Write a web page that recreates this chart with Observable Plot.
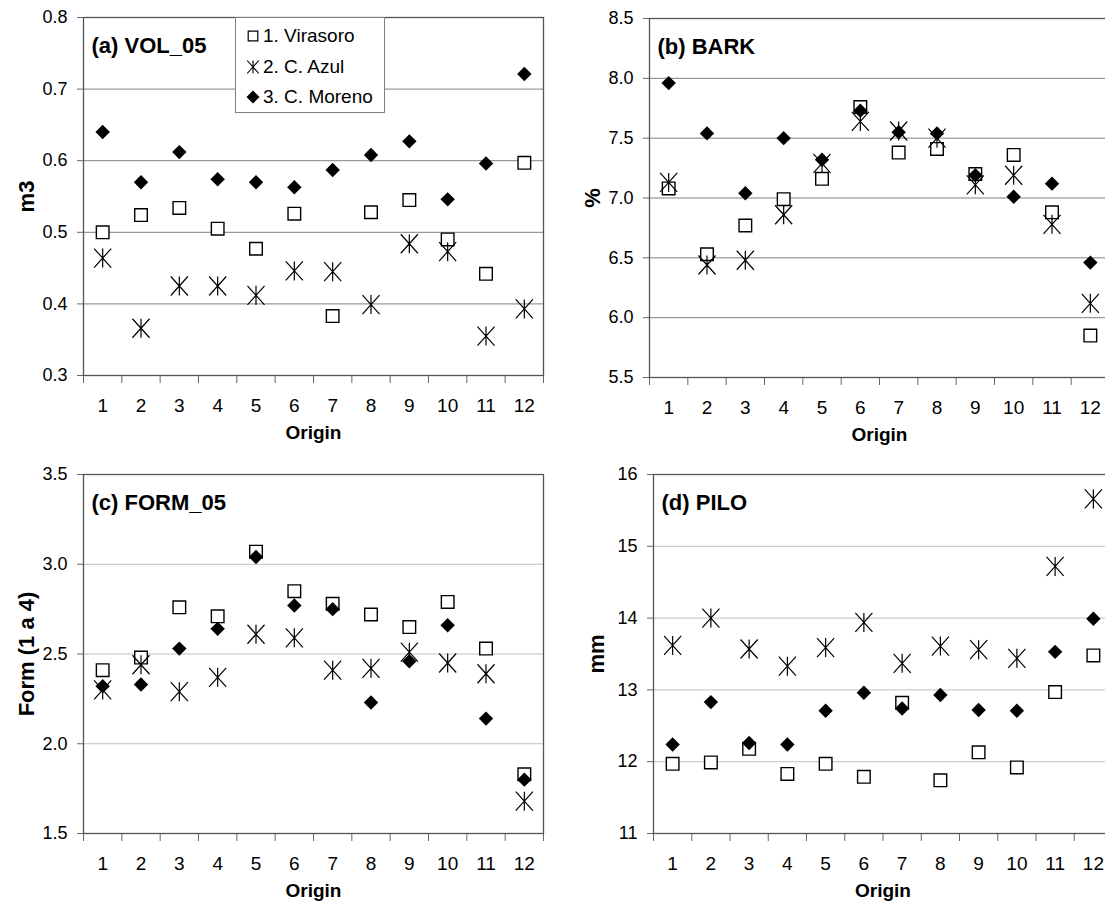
<!DOCTYPE html>
<html><head><meta charset="utf-8">
<script src="https://cdn.jsdelivr.net/npm/d3@7"></script>
<script src="https://cdn.jsdelivr.net/npm/@observablehq/plot@0.6"></script>
<style>
html,body{margin:0;padding:0;background:#fff;}
#fig{position:relative;width:1105px;height:905px;overflow:hidden;background:#fff;font-family:"Liberation Sans",Arial,sans-serif;}
.panel{position:absolute;}
.panel svg{max-width:none !important;}
#legend{position:absolute;left:235px;top:17px;width:150px;height:96px;border:1px solid #808080;background:#fff;box-sizing:border-box;}
#legend .row{position:absolute;left:0;height:24px;line-height:24px;font-size:19px;color:#000;white-space:nowrap;}
#legend svg{position:absolute;left:9px;top:4px;}
#legend span{position:absolute;left:27px;top:0;}
</style></head><body><div id="fig"></div>
<script>
// ---------- data ----------
const origins = [1,2,3,4,5,6,7,8,9,10,11,12];
const seriesNames = ["1. Virasoro", "2. C. Azul", "3. C. Moreno"];

const volVirasoro = [0.500,0.524,0.534,0.505,0.477,0.526,0.383,0.528,0.545,0.490,0.442,0.597];
const volAzul     = [0.464,0.366,0.425,0.425,0.412,0.446,0.445,0.399,0.484,0.473,0.355,0.393];
const volMoreno   = [0.640,0.570,0.612,0.574,0.570,0.563,0.587,0.608,0.627,0.546,0.596,0.721];

const barkVirasoro = [7.08,6.53,6.77,6.99,7.16,7.76,7.38,7.41,7.20,7.36,6.88,5.85];
const barkAzul     = [7.13,6.44,6.48,6.86,7.29,7.64,7.56,7.50,7.11,7.19,6.78,6.12];
const barkMoreno   = [7.96,7.54,7.04,7.50,7.32,7.73,7.55,7.54,7.19,7.01,7.12,6.46];

const formVirasoro = [2.41,2.48,2.76,2.71,3.07,2.85,2.78,2.72,2.65,2.79,2.53,1.83];
const formAzul     = [2.30,2.44,2.29,2.37,2.61,2.59,2.41,2.42,2.51,2.45,2.39,1.68];
const formMoreno   = [2.32,2.33,2.53,2.64,3.04,2.77,2.75,2.23,2.46,2.66,2.14,1.80];

const piloVirasoro = [11.97,11.99,12.18,11.83,11.97,11.79,12.82,11.74,12.13,11.92,12.97,13.48];
const piloAzul     = [13.62,14.00,13.57,13.33,13.59,13.94,13.37,13.61,13.56,13.44,14.72,15.66];
const piloMoreno   = [12.24,12.83,12.26,12.24,12.71,12.96,12.74,12.93,12.72,12.71,13.53,13.99];

const ticksVol  = [0.3,0.4,0.5,0.6,0.7,0.8];
const ticksBark = [5.5,6.0,6.5,7.0,7.5,8.0,8.5];
const ticksForm = [1.5,2.0,2.5,3.0,3.5];
const ticksPilo = [11,12,13,14,15,16];

const titles  = ["(a) VOL_05", "(b) BARK", "(c) FORM_05", "(d) PILO"];
const yLabels = ["m3", "%", "Form (1 a 4)", "mm"];
const xLabel  = "Origin";

// ---------- symbols ----------
const symSquare = {draw(c, size){const r=Math.sqrt(size/Math.PI); c.moveTo(-r,-r); c.lineTo(r,-r); c.lineTo(r,r); c.lineTo(-r,r); c.closePath();}};
const symStar = {draw(c, size){const r=Math.sqrt(size/Math.PI), w=r*0.9; c.moveTo(0,-r); c.lineTo(0,r); c.moveTo(-w,-r); c.lineTo(w,r); c.moveTo(w,-r); c.lineTo(-w,r);}};
const symDiamond = {draw(c, size){const r=Math.sqrt(size/Math.PI); c.moveTo(0,-r); c.lineTo(r,0); c.lineTo(0,r); c.lineTo(-r,0); c.closePath();}};

const boundaries = origins.map(o => o - 0.5).concat([origins[origins.length-1] + 0.5]);
const FONT = "'Liberation Sans', Arial, sans-serif";

function toRows(vals){ return origins.map((o,i) => ({origin:o, value:vals[i]})); }

function makePanel(cfg){
  const {left, top, width, height, mt, mr, mb, ml, ticks, fmt, title, ylabel, series, grid} = cfg;
  const plot = Plot.plot({
    width, height, marginTop: mt, marginRight: mr, marginBottom: mb, marginLeft: ml,
    x: {domain: [boundaries[0], boundaries[boundaries.length-1]], label: null},
    y: {domain: [ticks[0], ticks[ticks.length-1]], label: null},
    style: {fontFamily: FONT, background: "transparent", overflow: "visible", color: "#000", maxWidth: "none"},
    marks: [
      Plot.gridY({ticks, stroke: grid, strokeOpacity: 1, strokeWidth: 1}),
      Plot.axisY({ticks, tickSize: 6, tickPadding: 10, tickFormat: fmt, fontSize: 18, label: null, stroke: "#666"}),
      Plot.axisX({ticks: boundaries, tickSize: 8, tickFormat: () => "", label: null, stroke: "#666"}),
      Plot.axisX({ticks: origins, tickSize: 0, tickPadding: 23, tickFormat: d => String(d), fontSize: 19, label: null}),
      Plot.dot(toRows(series[0]), {x: "origin", y: "value", symbol: symSquare, r: 6.3, stroke: "#000", strokeWidth: 1.4, fill: "#fff"}),
      Plot.dot(toRows(series[1]), {x: "origin", y: "value", symbol: symStar, r: 9.5, stroke: "#000", strokeWidth: 1.2, fill: "none"}),
      Plot.dot(toRows(series[2]), {x: "origin", y: "value", symbol: symDiamond, r: 7.2, fill: "#000", stroke: "none"}),
      Plot.frame({stroke: "#555", strokeWidth: 1.3}),
      Plot.text([title], {text: d => d, frameAnchor: "top-left", dx: 8, dy: 20, lineAnchor: "top", textAnchor: "start", fontSize: 22, fontWeight: "bold", fill: "#000"}),
      Plot.text([ylabel], {text: d => d, frameAnchor: "left", dx: -57, rotate: -90, lineAnchor: "middle", textAnchor: "middle", fontSize: 22, fontWeight: "bold", fill: "#000"}),
      Plot.text([xLabel], {text: d => d, frameAnchor: "bottom", dy: 57, lineAnchor: "middle", textAnchor: "middle", fontSize: 19, fontWeight: "bold", fill: "#000"})
    ]
  });
  const div = document.createElement("div");
  div.className = "panel";
  div.style.left = left + "px";
  div.style.top = top + "px";
  div.style.width = width + "px";
  div.style.height = height + "px";
  plot.style.maxWidth = "none";
  plot.style.width = width + "px";
  plot.style.height = height + "px";
  div.appendChild(plot);
  document.getElementById("fig").appendChild(div);
}

const f1 = d3.format(".1f");
makePanel({left:0, top:0, width:552, height:440, mt:17, mr:9, mb:65, ml:83, ticks:ticksVol, fmt:f1, title:titles[0], ylabel:yLabels[0], series:[volVirasoro, volAzul, volMoreno], grid:"#808080"});
makePanel({left:550, top:0, width:569, height:440, mt:18, mr:10, mb:63, ml:99, ticks:ticksBark, fmt:f1, title:titles[1], ylabel:yLabels[1], series:[barkVirasoro, barkAzul, barkMoreno], grid:"#808080"});
makePanel({left:0, top:440, width:552, height:465, mt:34, mr:9, mb:72, ml:83, ticks:ticksForm, fmt:f1, title:titles[2], ylabel:yLabels[2], series:[formVirasoro, formAzul, formMoreno], grid:"#c0c0c0"});
makePanel({left:550, top:440, width:572, height:465, mt:34, mr:10, mb:72, ml:103, ticks:ticksPilo, fmt:d3.format("d"), title:titles[3], ylabel:yLabels[3], series:[piloVirasoro, piloAzul, piloMoreno], grid:"#c0c0c0"});

// ---------- legend (panel a) ----------
const legend = document.createElement("div");
legend.id = "legend";
const legendSyms = [
  {sym: symSquare, r: 4.8, fill: "#fff", stroke: "#000", sw: 1.2},
  {sym: symStar, r: 6.5, fill: "none", stroke: "#000", sw: 1.1},
  {sym: symDiamond, r: 6.5, fill: "#000", stroke: "none", sw: 0}
];
const rowTops = [6, 37, 67];
seriesNames.forEach((name, i) => {
  const row = document.createElement("div");
  row.className = "row";
  row.style.top = rowTops[i] + "px";
  const s = legendSyms[i];
  const svg = d3.create("svg").attr("width", 16).attr("height", 16);
  svg.append("path")
    .attr("transform", "translate(8,8)")
    .attr("d", d3.symbol(s.sym, s.r * s.r * Math.PI)())
    .attr("fill", s.fill).attr("stroke", s.stroke).attr("stroke-width", s.sw);
  row.appendChild(svg.node());
  const span = document.createElement("span");
  span.textContent = name;
  row.appendChild(span);
  legend.appendChild(row);
});
document.getElementById("fig").appendChild(legend);
</script>
</body></html>
